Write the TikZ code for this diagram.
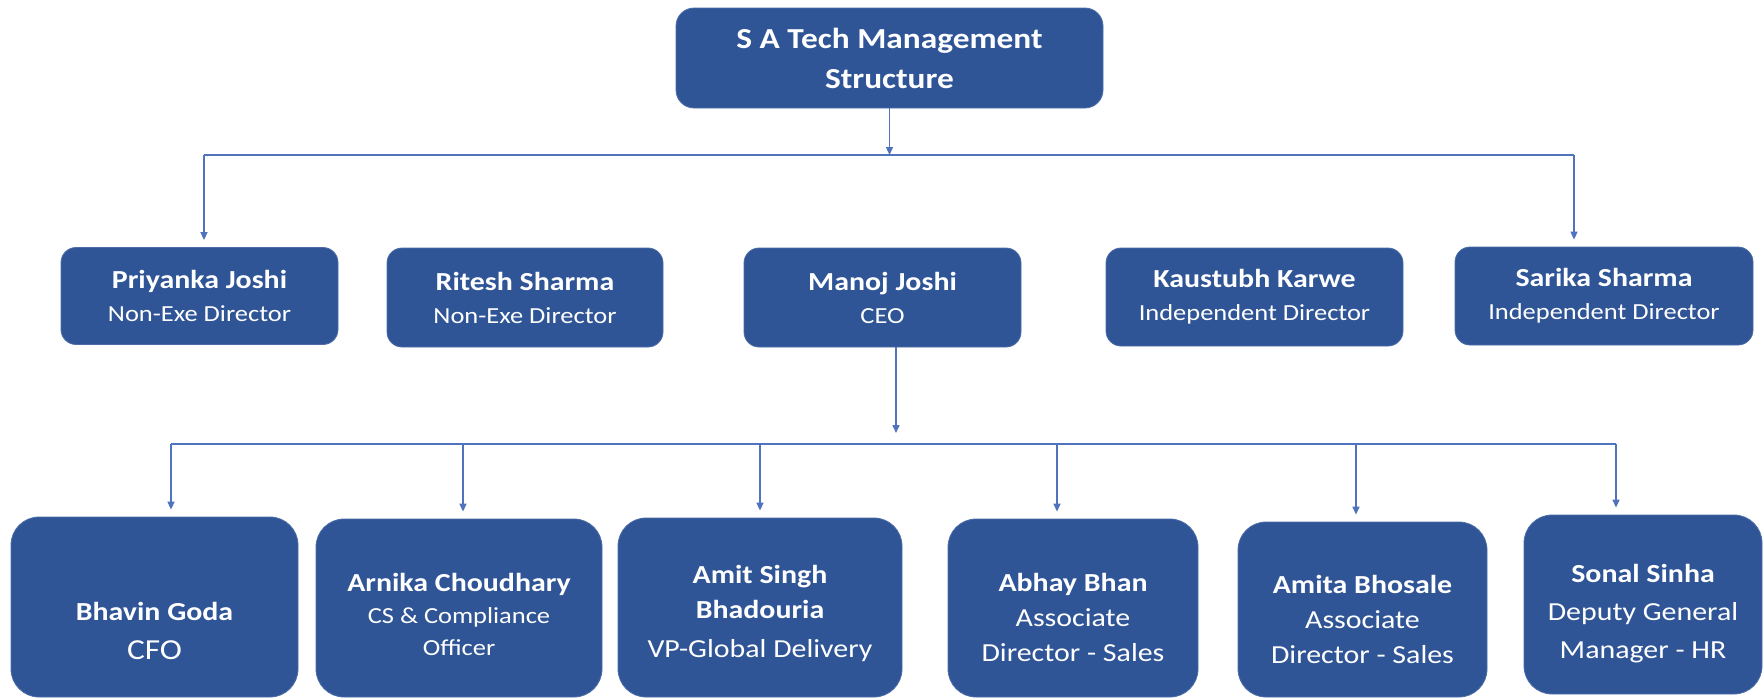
\documentclass[tikz,border=0pt]{standalone}
\usepackage{fontspec}
\setmainfont{Carlito}[FakeStretch=1.15]
\usetikzlibrary{arrows.meta}
\definecolor{boxblue}{RGB}{47,85,151}
\definecolor{lineblue}{RGB}{80,115,190}
\newcommand{\pname}[1]{{\fontsize{26}{33}\selectfont\bfseries #1}}
\newcommand{\prole}[1]{{\fontsize{23}{33}\selectfont #1}}
\newcommand{\prolebig}[1]{{\fontsize{26}{35}\selectfont #1}}
\newcommand{\dn}[1]{\rule{0pt}{0pt}\\[#1]}
\begin{document}
\begin{tikzpicture}[x=1pt,y=-1pt,
  box/.style={fill=boxblue, draw=boxblue!85!white, line width=0.8pt, text=white,
    align=center, inner sep=0pt},
  titlebox/.style={box, rounded corners=18pt, font=\fontsize{29}{40}\selectfont\bfseries},
  toprow/.style={box, rounded corners=15pt, font=\fontsize{23}{33}\selectfont},
  botrow/.style={box, rounded corners=28pt, font=\fontsize{26}{35}\selectfont},
  conn/.style={draw=lineblue, line width=1.4pt},
  arr/.style={conn, -{Triangle[length=8pt,width=7pt]}}
]
\useasboundingbox (0,0) rectangle (1764,699);
\fill[white] (0,0) rectangle (1764,699);

% title
\node[titlebox, minimum width=427pt, minimum height=100pt] (title) at (889.5,58)
  {S A Tech Management\\Structure};

% second row
\node[toprow, minimum width=277pt, minimum height=97pt] (pj) at (199.5,296)
  {\pname{Priyanka Joshi}\\\prole{Non-Exe Director}};
\node[toprow, minimum width=276pt, minimum height=99pt] (rs) at (525,297.5)
  {\pname{Ritesh Sharma}\\\prole{Non-Exe Director}};
\node[toprow, minimum width=277pt, minimum height=99pt] (mj) at (882.5,297.5)
  {\pname{Manoj Joshi}\\\prole{CEO}};
\node[toprow, minimum width=297pt, minimum height=98pt] (kk) at (1254.5,297)
  {\pname{Kaustubh Karwe}\\\prole{Independent Director}};
\node[toprow, minimum width=298pt, minimum height=98pt] (ss) at (1604,296)
  {\pname{Sarika Sharma}\\\prole{Independent Director}};

% third row
\node[botrow, minimum width=287pt, minimum height=180pt] (bg) at (154.5,607)
  {\dn{32pt}\pname{Bhavin Goda}\\[4pt]{\fontsize{29}{35}\selectfont CFO}};
\node[botrow, minimum width=286pt, minimum height=178pt] (ac) at (459,608)
  {\dn{-4pt}\pname{Arnika Choudhary}\\[-3pt]\prole{CS \& Compliance}\\[-3pt]\prole{Officer}};
\node[botrow, minimum width=284pt, minimum height=179pt] (asb) at (760,607.5)
  {\dn{-4pt}\pname{Amit Singh}\\\pname{Bhadouria}\\[4pt]\prolebig{VP-Global Delivery}};
\node[botrow, minimum width=250pt, minimum height=178pt] (ab) at (1073,608)
  {\dn{2pt}\pname{Abhay Bhan}\\\prolebig{Associate}\\\prolebig{Director - Sales}};
\node[botrow, minimum width=249pt, minimum height=175pt] (abh) at (1362.5,609.5)
  {\dn{4pt}\pname{Amita Bhosale}\\\prolebig{Associate}\\\prolebig{Director - Sales}};
\node[botrow, minimum width=238pt, minimum height=179pt] (sn) at (1643,604.5)
  {\dn{1pt}\pname{Sonal Sinha}\\[3pt]\prolebig{Deputy General}\\[3pt]\prolebig{Manager - HR}};

% bus coordinates
\coordinate (b1L) at (204,155);
\coordinate (b1R) at (1574,155);
\coordinate (b2L) at (171,444);
\coordinate (b2R) at (1616,444);
\coordinate (t2) at (463,444);
\coordinate (t4) at (1057,444);
\coordinate (t5) at (1356,444);
\coordinate (ceoOut) at (896,347);
\coordinate (ceoIn) at (896,433);

% top connectors
\draw[arr] (title.south) -- (title.south |- b1L);
\draw[conn] (b1L) -- (b1R);
\draw[arr] (b1L) -- ([yshift=7pt]b1L |- pj.north);
\draw[arr] (b1R) -- ([yshift=7pt]b1R |- ss.north);

% CEO connectors
\draw[arr] (ceoOut) -- (ceoIn);
\draw[conn] (b2L) -- (b2R);
\draw[arr] (b2L) -- ([yshift=7pt]b2L |- bg.north);
\draw[arr] (t2) -- ([yshift=7pt]t2 |- ac.north);
\draw[arr] (asb.north |- b2L) -- ([yshift=7pt]asb.north);
\draw[arr] (t4) -- ([yshift=7pt]t4 |- ab.north);
\draw[arr] (t5) -- ([yshift=7pt]t5 |- abh.north);
\draw[arr] (b2R) -- ([yshift=7pt]b2R |- sn.north);
\end{tikzpicture}
\end{document}
